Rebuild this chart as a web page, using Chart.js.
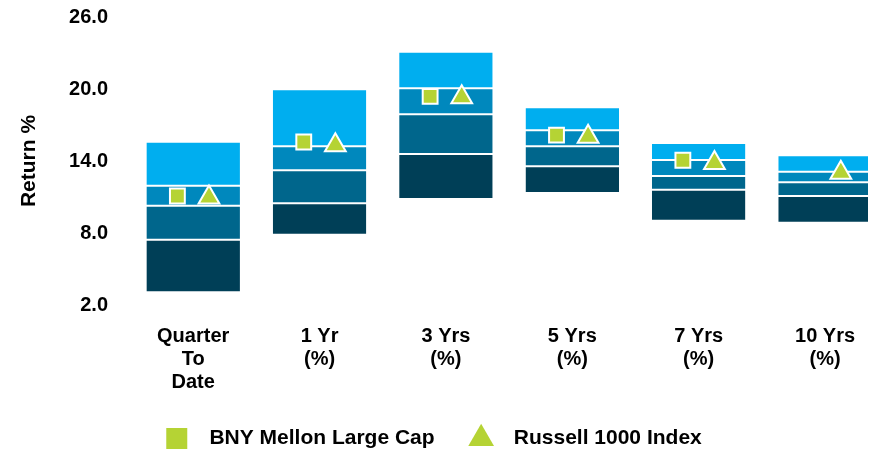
<!DOCTYPE html>
<html>
<head>
<meta charset="utf-8">
<script src="https://cdn.jsdelivr.net/npm/chart.js@4.4.0/dist/chart.umd.min.js"></script>
<style>
  html, body { margin: 0; padding: 0; background: #fff; }
  #wrap { width: 888px; height: 453px; }
</style>
</head>
<body>
<div id="wrap"><canvas id="returnChart"></canvas></div>
<script>
// percentile boxes (5th / 25th / median / 75th / 95th) per period
const categories = [["Quarter", "To", "Date"], ["1 Yr", "(%)"], ["3 Yrs", "(%)"], ["5 Yrs", "(%)"], ["7 Yrs", "(%)"], ["10 Yrs", "(%)"]];
const p5 = [3.06, 7.86, 10.83, 11.33, 9.03, 8.86];
const p25 = [7.44, 10.48, 14.58, 13.56, 11.61, 11.08];
const median = [10.28, 13.23, 17.89, 15.23, 12.75, 12.23];
const p75 = [11.94, 15.23, 20.06, 16.56, 14.08, 13.11];
const p95 = [15.61, 19.98, 23.11, 18.48, 15.5, 14.48];

// the two marker series
const bnyMellon = [11.08, 15.58, 19.39, 16.15, 14.06, null];
const russell1000 = [10.96, 15.31, 19.31, 16.03, 13.83, 13.03];

const yTicks = [2, 8, 14, 20, 26];

const green = "#B5D334";
const boxColors = ["#003F57", "#00668C", "#0088BD", "#00AEEF"];
const bands = [[p5, p25], [p25, median], [median, p75], [p75, p95]];
const markerShift = 0.125;
const boldFont = { family: "'Liberation Sans', Arial, sans-serif", size: 20, weight: "bold" };

const boxSets = bands.map(([lo, hi], k) => ({
  type: "bar",
  label: "band" + k,
  data: lo.map((v, i) => ({ x: i, y: [v, hi[i]] })),
  backgroundColor: boxColors[k],
  borderColor: "#ffffff",
  borderWidth: { top: 1, bottom: 1, left: 0, right: 0 },
  borderSkipped: false,
  grouped: false,
  categoryPercentage: 0.74,
  barPercentage: 1,
}));

const ctx = document.getElementById("returnChart");

new Chart(ctx, {
  type: "bar",
  data: {
    datasets: [
      {
        type: "scatter",
        label: "BNY Mellon Large Cap",
        data: bnyMellon.map((v, i) => ({ x: i - markerShift, y: v })),
        pointStyle: "rect",
        pointRadius: 10.5,
        pointHoverRadius: 10.5,
        backgroundColor: green,
        borderColor: "#ffffff",
        borderWidth: 2,
      },
      {
        type: "scatter",
        label: "Russell 1000 Index",
        data: russell1000.map((v, i) => ({ x: i + markerShift, y: v })),
        pointStyle: "triangle",
        pointRadius: 12,
        pointHoverRadius: 12,
        backgroundColor: green,
        borderColor: "#ffffff",
        borderWidth: 2,
      },
      ...boxSets,
    ],
  },
  options: {
    responsive: true,
    maintainAspectRatio: false,
    animation: false,
    layout: { padding: { top: 17, right: 20, bottom: -6, left: 0 } },
    plugins: {
      tooltip: { enabled: false },
      legend: {
        position: "bottom",
        labels: {
          usePointStyle: true,
          boxHeight: 21,
          padding: 36,
          color: "#000",
          font: { ...boldFont, size: 21 },
          generateLabels: chart => Chart.defaults.plugins.legend.labels.generateLabels(chart)
            .filter(item => item.datasetIndex < 2)
            .map(item => ({ ...item, text: "  " + item.text, lineWidth: 0 })),
        },
      },
    },
    scales: {
      x: {
        type: "linear",
        offset: false,
        min: -0.5,
        max: 5.34,
        afterBuildTicks: axis => { axis.ticks = categories.map((c, i) => ({ value: i })); },
        afterFit: axis => { axis.height = 87; },
        grid: { display: false, drawTicks: false },
        border: { display: false },
        ticks: {
          autoSkip: false,
          maxRotation: 0,
          padding: 20,
          color: "#000",
          font: { ...boldFont, lineHeight: 1.15 },
          callback: value => categories[value],
        },
      },
      y: {
        min: 2,
        max: 26,
        afterBuildTicks: axis => { axis.ticks = yTicks.map(v => ({ value: v })); },
        afterFit: axis => { axis.width = 130; axis.paddingTop = 0; axis.paddingBottom = 0; },
        grid: { display: false, drawTicks: false },
        border: { display: false },
        ticks: {
          padding: 22,
          color: "#000",
          font: boldFont,
          callback: value => value.toFixed(1),
        },
        title: {
          display: true,
          text: "Return %",
          color: "#000",
          font: { ...boldFont, size: 21, lineHeight: 1.2 },
          padding: { top: 17, bottom: 0 },
        },
      },
    },
  },
});
</script>
</body>
</html>
